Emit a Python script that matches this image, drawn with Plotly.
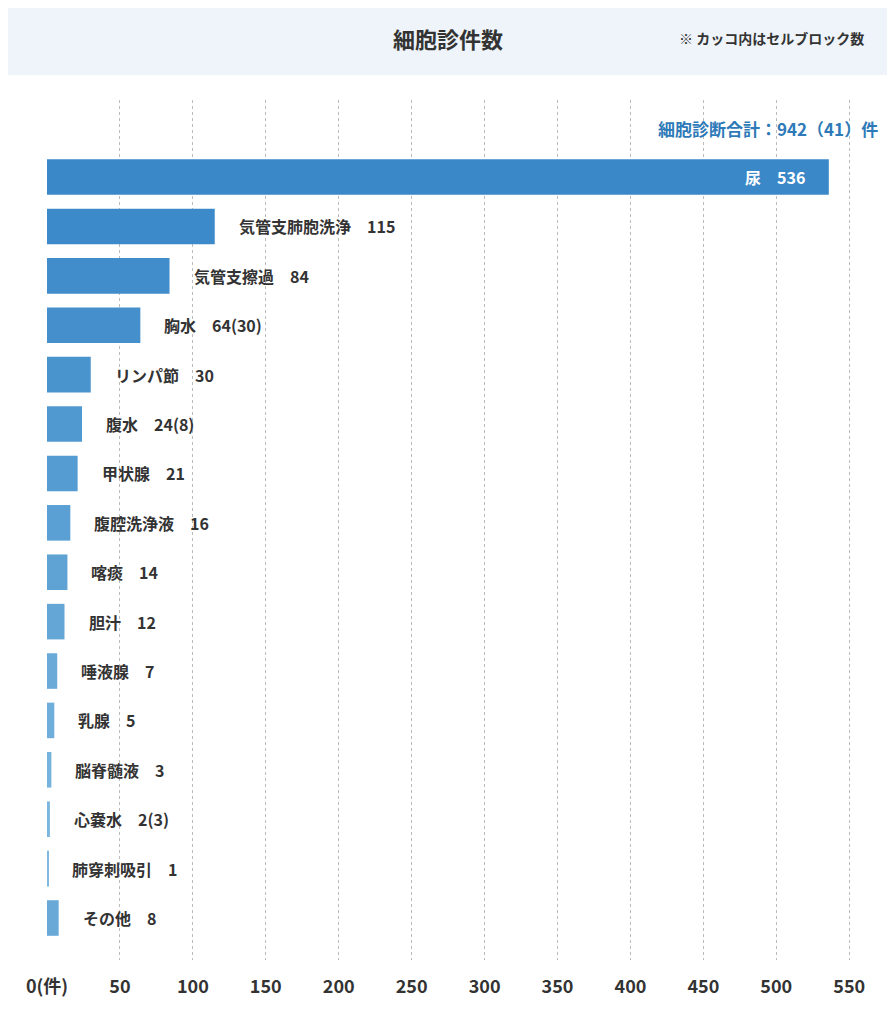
import plotly.graph_objects as go

categories = ["尿","気管支肺胞洗浄","気管支擦過","胸水","リンパ節","腹水","甲状腺","腹腔洗浄液","喀痰","胆汁","唾液腺","乳腺","脳脊髄液","心嚢水","肺穿刺吸引","その他"]
values = [536,115,84,64,30,24,21,16,14,12,7,5,3,2,1,8]
cellblocks = [None,None,None,30,None,8,None,None,None,None,None,None,None,3,None,None]
colors = ["#3B88C9","#3D8ACA","#418DCB","#4590CC","#4A94CE","#5098D0","#559CD2","#5AA0D4","#5FA3D5","#64A7D7","#69AAD9","#6FAEDB","#75B2DC","#7AB6DE","#80B9E0","#68A9D8"]
tickvals = list(range(0, 551, 50))
ticktext = ["0(件)"] + [str(v) for v in tickvals[1:]]

font = "Noto Sans CJK JP"
idx = list(range(len(categories)))
fig = go.Figure(go.Bar(x=values, y=idx, orientation="h", marker=dict(color=colors, line=dict(width=0)),
                       width=0.72, hoverinfo="skip"))

anns = []
for i, (c, v, cb) in enumerate(zip(categories, values, cellblocks)):
    t = f"{c}　{v}" + (f"({cb})" if cb is not None else "")
    if i == 0:
        anns.append(dict(x=v, y=i, text=t, showarrow=False, xanchor="right", yanchor="middle", xshift=-22,
                         font=dict(family=font, size=16, color="white", weight="bold")))
    else:
        anns.append(dict(x=v, y=i, text=t, showarrow=False, xanchor="left", yanchor="middle", xshift=22,
                         font=dict(family=font, size=16, color="#333333", weight="bold")))

H = 860
anns += [
    dict(xref="paper", yref="paper", x=(448-47)/846, y=1 + 62/H, xanchor="center", yanchor="middle", text="細胞診件数",
         showarrow=False, font=dict(family=font, size=22, color="#333333", weight="bold")),
    dict(xref="paper", yref="paper", x=(866-47)/846, y=1 + 62/H, xanchor="right", yanchor="middle", text="※ カッコ内はセルブロック数",
         showarrow=False, font=dict(family=font, size=14, color="#333333", weight="bold")),
    dict(xref="paper", yref="paper", x=(880-47)/846, y=1 - 28/H, xanchor="right", yanchor="middle", text="細胞診断合計：942（41）件",
         showarrow=False, font=dict(family=font, size=17, color="#2E7AB8", weight="bold")),
]

fig.update_layout(
    width=895, height=1024, margin=dict(l=39, r=10, t=92, b=72),
    paper_bgcolor="white", plot_bgcolor="white", showlegend=False,
    xaxis=dict(range=[0, 580], tickvals=tickvals, ticktext=ticktext, showgrid=True,
               gridcolor="#BBBBBB", griddash="dot", gridwidth=1, zeroline=False,
               ticks="", ticklabelstandoff=14,
               tickfont=dict(family=font, size=18, color="#333333", weight="bold")),
    yaxis=dict(range=[15.85, -1.56], showticklabels=False, showgrid=False, zeroline=False),
    shapes=[dict(type="rect", xref="paper", yref="paper", x0=-0.06, x1=1.05, y0=1.0 + 25/H, y1=1.0 + 100/H,
                 fillcolor="#EEF4F9", line=dict(width=0), layer="below")],
    annotations=anns,
)
fig.write_html("out.html")
